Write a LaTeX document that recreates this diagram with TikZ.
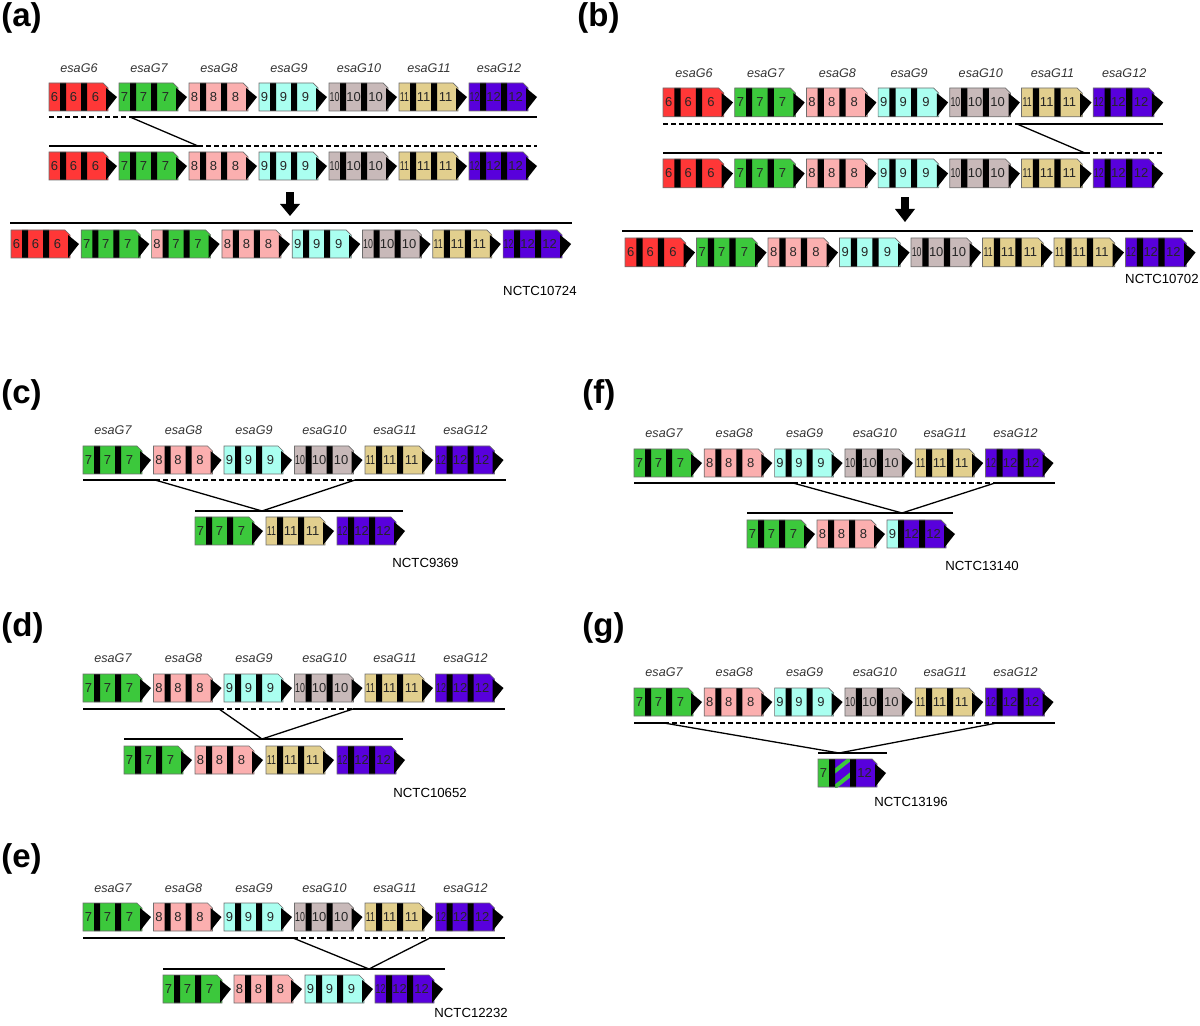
\documentclass[tikz,border=0pt]{standalone}
\usepackage{fontspec}
\setmainfont{Liberation Sans}
\usepackage{graphicx}

\definecolor{c6}{RGB}{255,55,55}
\definecolor{c7}{RGB}{60,200,60}
\definecolor{c8}{RGB}{251,175,175}
\definecolor{c9}{RGB}{170,255,240}
\definecolor{c10}{RGB}{200,185,185}
\definecolor{c11}{RGB}{226,207,142}
\definecolor{c12}{RGB}{88,0,220}
\definecolor{edge}{RGB}{110,110,110}

\newcommand{\slimnum}[1]{\ifnum#1>9 \scalebox{0.68}[1]{#1}\else #1\fi}

\tikzset{
  num/.style={inner sep=0pt, text=black!85, font=\fontsize{6.5}{7}\selectfont},
  glabel/.style={inner sep=0pt, text=black!80, font=\fontsize{6.3}{7}\selectfont\itshape},
  strain/.style={inner sep=0pt, anchor=west, font=\fontsize{6.6}{8}\selectfont},
  panel/.style={inner sep=0pt, anchor=base west, font=\fontsize{16.5}{18}\selectfont\bfseries},
  chrom/.style={line width=0.9pt},
  gap/.style={line width=0.9pt, dash pattern=on 2.5pt off 1.5pt},
  cross/.style={line width=0.65pt},
  pics/gene/.style 2 args={code={
    \fill[fill=c#2] (0,0) -- (54,0) -- (59,5) -- (59,28) -- (0,28) -- cycle;
    \fill[fill=c#1] (0,0) rectangle (11,28);
    \fill[black] (11,0) rectangle (17,28) (32,0) rectangle (38,28);
    \draw[edge, line width=0.35pt] (0,0) -- (54,0) -- (59,5) -- (59,28) -- (0,28) -- cycle;
    \fill[black] (57,5) -- (68,14) -- (57,28) -- cycle;
    \node[num] (-n1) at (5.5,14) {\slimnum{#1}};
    \node[num] (-n2) at (24.5,14) {#2};
    \node[num] (-n3) at (46.5,14) {#2};
  }},
  pics/hatchgene/.style={code={
    \fill[c12] (0,0) -- (54,0) -- (59,5) -- (59,28) -- (0,28) -- cycle;
    \fill[c7] (0,0) rectangle (11,28);
    \begin{scope}
      \clip (17,0) rectangle (32,28);
      \draw[c7, line width=2pt] (12,32) -- (37,12) (12,16) -- (37,-4);
    \end{scope}
    \fill[black] (11,0) rectangle (17,28) (32,0) rectangle (38,28);
    \draw[edge, line width=0.35pt] (0,0) -- (54,0) -- (59,5) -- (59,28) -- (0,28) -- cycle;
    \fill[black] (57,5) -- (68,14) -- (57,28) -- cycle;
    \node[num] (-n1) at (5.5,14) {7};
    \node[num] (-n3) at (46.5,14) {12};
  }},
}

\begin{document}
\begin{tikzpicture}[x=0.5pt, y=-0.5pt]
\useasboundingbox (0,0) rectangle (1200,1026);

% (a)
\node[panel] (pa) at (1,27) {(a)};
\foreach \n [count=\i from 0] in {6,...,12}{
  \node[glabel] (a-l\n) at ({79+70*\i},68) {esaG\n};
  \pic (a-r1g\n) at ({49+70*\i},83) {gene={\n}{\n}};
  \pic (a-r2g\n) at ({49+70*\i},152) {gene={\n}{\n}};
}
\foreach \na/\nb [count=\i from 0] in {6/6,7/7,8/7,8/8,9/9,10/10,11/11,12/12}
  \pic (a-r3g\i) at ({11+70.3*\i},230) {gene={\na}{\nb}};
\coordinate (a1L) at (49,117); \coordinate (a1M) at (130,117); \coordinate (a1R) at (537,117);
\coordinate (a2L) at (49,146); \coordinate (a2M) at (198,146); \coordinate (a2R) at (537,146);
\coordinate (a3L) at (10,223); \coordinate (a3R) at (572,223);
\draw[gap] (a1L) -- (a1M);
\draw[chrom] (a1M) -- (a1R);
\draw[chrom] (a2L) -- (a2M);
\draw[gap] (a2M) -- (a2R);
\draw[cross] (a1M) -- (a2M);
\draw[chrom] (a3L) -- (a3R);
\fill (286,192) rectangle (294,205);
\fill (280,204) -- (300,204) -- (290,216) -- cycle;
\node[strain, anchor=east] (a-strain) at (577,291) {NCTC10724};

% (b)
\node[panel] (pb) at (577,27) {(b)};
\foreach \n [count=\i from 0] in {6,...,12}{
  \node[glabel] (b-l\n) at ({694+71.7*\i},73) {esaG\n};
  \pic[scale=1.03] (b-r1g\n) at ({663+71.7*\i},88) {gene={\n}{\n}};
  \pic[scale=1.03] (b-r2g\n) at ({663+71.7*\i},159) {gene={\n}{\n}};
}
\foreach \n [count=\i from 0] in {6,7,8,9,10,11,11,12}
  \pic[scale=1.03] (b-r3g\i) at ({625+71.5*\i},238) {gene={\n}{\n}};
\coordinate (b1L) at (663,124); \coordinate (b1M) at (1017,124); \coordinate (b1R) at (1163,124);
\coordinate (b2L) at (663,153); \coordinate (b2M) at (1085,153); \coordinate (b2R) at (1163,153);
\coordinate (b3L) at (622,231); \coordinate (b3R) at (1193,231);
\draw[gap] (b1L) -- (b1M);
\draw[chrom] (b1M) -- (b1R);
\draw[chrom] (b2L) -- (b2M);
\draw[gap] (b2M) -- (b2R);
\draw[cross] (b1M) -- (b2M);
\draw[chrom] (b3L) -- (b3R);
\fill (901,197) rectangle (909,210);
\fill (895,209) -- (915,209) -- (905,222) -- cycle;
\node[strain, anchor=east] (b-strain) at (1199,279) {NCTC10702};

% (c)
\node[panel] (pc) at (1,404) {(c)};
\foreach \n [count=\i from 0] in {7,...,12}{
  \node[glabel] (c-l\n) at ({113+70.5*\i},430) {esaG\n};
  \pic (c-r1g\n) at ({83+70.5*\i},446) {gene={\n}{\n}};
}
\foreach \x/\n in {195/7,266/11,337/12}
  \pic (c-r2g\n) at (\x,517) {gene={\n}{\n}};
\coordinate (c1L) at (83,480); \coordinate (c1A) at (155,480);
\coordinate (c1B) at (355,480); \coordinate (c1R) at (506,480);
\coordinate (c2J) at (262,511);
\coordinate (c2L) at (195,511); \coordinate (c2R) at (403,511);
\draw[chrom] (c1L) -- (c1A);
\draw[gap] (c1A) -- (c1B);
\draw[chrom] (c1B) -- (c1R);
\draw[cross] (c1A) -- (c2J) -- (c1B);
\draw[chrom] (c2L) -- (c2R);
\node[strain] (c-strain) at (392,563) {NCTC9369};

% (d)
\node[panel] (pd) at (1,636) {(d)};
\foreach \n [count=\i from 0] in {7,...,12}{
  \node[glabel] (d-l\n) at ({113+70.5*\i},658) {esaG\n};
  \pic (d-r1g\n) at ({83+70.5*\i},674) {gene={\n}{\n}};
}
\foreach \x/\n in {124/7,195/8,266/11,337/12}
  \pic (d-r2g\n) at (\x,746) {gene={\n}{\n}};
\coordinate (d1L) at (83,709); \coordinate (d1A) at (219,709);
\coordinate (d1B) at (353,709); \coordinate (d1R) at (505,709);
\coordinate (d2J) at (262,739);
\coordinate (d2L) at (124,739); \coordinate (d2R) at (403,739);
\draw[chrom] (d1L) -- (d1A);
\draw[gap] (d1A) -- (d1B);
\draw[chrom] (d1B) -- (d1R);
\draw[cross] (d1A) -- (d2J) -- (d1B);
\draw[chrom] (d2L) -- (d2R);
\node[strain] (d-strain) at (393,793) {NCTC10652};

% (e)
\node[panel] (pe) at (1,867) {(e)};
\foreach \n [count=\i from 0] in {7,...,12}{
  \node[glabel] (e-l\n) at ({113+70.5*\i},888) {esaG\n};
  \pic (e-r1g\n) at ({83+70.5*\i},903) {gene={\n}{\n}};
}
\foreach \x/\n in {163/7,234/8,305/9,375/12}
  \pic (e-r2g\n) at (\x,975) {gene={\n}{\n}};
\coordinate (e1L) at (83,938); \coordinate (e1A) at (293,938);
\coordinate (e1B) at (430,938); \coordinate (e1R) at (505,938);
\coordinate (e2J) at (369,969);
\coordinate (e2L) at (163,969); \coordinate (e2R) at (445,969);
\draw[chrom] (e1L) -- (e1A);
\draw[gap] (e1A) -- (e1B);
\draw[chrom] (e1B) -- (e1R);
\draw[cross] (e1A) -- (e2J) -- (e1B);
\draw[chrom] (e2L) -- (e2R);
\node[strain] (e-strain) at (434,1013) {NCTC12232};

% (f)
\node[panel] (pf) at (582,404) {(f)};
\foreach \n [count=\i from 0] in {7,...,12}{
  \node[glabel] (f-l\n) at ({664+70.3*\i},433) {esaG\n};
  \pic (f-r1g\n) at ({634+70.3*\i},449) {gene={\n}{\n}};
}
\foreach \x/\na/\nb in {747/7/7,817/8/8,887/9/12}
  \pic (f-r2g\na) at (\x,520) {gene={\na}{\nb}};
\coordinate (f1L) at (634,483); \coordinate (f1A) at (793,483);
\coordinate (f1B) at (995,483); \coordinate (f1R) at (1055,483);
\coordinate (f2J) at (902,513);
\coordinate (f2L) at (747,513); \coordinate (f2R) at (953,513);
\draw[chrom] (f1L) -- (f1A);
\draw[gap] (f1A) -- (f1B);
\draw[chrom] (f1B) -- (f1R);
\draw[cross] (f1A) -- (f2J) -- (f1B);
\draw[chrom] (f2L) -- (f2R);
\node[strain] (f-strain) at (945,566) {NCTC13140};

% (g)
\node[panel] (pg) at (582,636) {(g)};
\foreach \n [count=\i from 0] in {7,...,12}{
  \node[glabel] (g-l\n) at ({664+70.3*\i},672) {esaG\n};
  \pic (g-r1g\n) at ({634+70.3*\i},688) {gene={\n}{\n}};
}
\pic (g-r2) at (818,759) {hatchgene};
\coordinate (g1L) at (634,723); \coordinate (g1A) at (664,723);
\coordinate (g1B) at (997,723); \coordinate (g1R) at (1055,723);
\coordinate (g2J) at (839,753);
\coordinate (g2L) at (818,753); \coordinate (g2R) at (887,753);
\draw[chrom] (g1L) -- (g1A);
\draw[gap] (g1A) -- (g1B);
\draw[chrom] (g1B) -- (g1R);
\draw[cross] (g1A) -- (g2J) -- (g1B);
\draw[chrom, line width=0.6pt] (g2L) -- (g2R);
\node[strain] (g-strain) at (874,802) {NCTC13196};

\end{tikzpicture}
\end{document}
